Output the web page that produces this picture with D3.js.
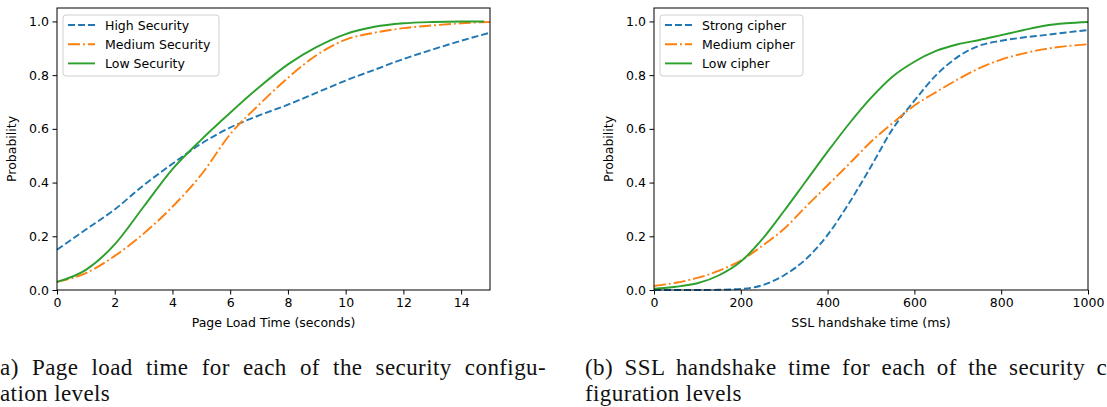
<!DOCTYPE html>
<html>
<head>
<meta charset="utf-8">
<script src="https://cdn.jsdelivr.net/npm/d3@7"></script>
<style>
body { margin: 0; background: #fff; }
text { font-family: "DejaVu Sans", sans-serif; }
.caption { font-family: "Liberation Serif", serif; font-size: 23px; fill: #111; letter-spacing: 0.4px; }
</style>
</head>
<body>
<svg id="canvas"></svg>
<script>
// (a) page load time, seconds
const loadTime = [0, 1, 2, 3, 4, 5, 6, 7, 8, 9, 10, 11, 12, 13, 14, 15]
const highSecurity = [0.15, 0.225, 0.30, 0.39, 0.47, 0.545, 0.605, 0.65, 0.69, 0.735, 0.78, 0.82, 0.86, 0.895, 0.928, 0.958]
const mediumSecurity = [0.03, 0.063, 0.127, 0.21, 0.31, 0.43, 0.58, 0.69, 0.79, 0.875, 0.932, 0.958, 0.975, 0.985, 0.993, 0.998]
const lowTime = [0, 1, 2, 3, 4, 5, 6, 7, 8, 9, 10, 11, 12, 13, 14, 14.8]
const lowSecurity = [0.03, 0.075, 0.17, 0.31, 0.45, 0.56, 0.66, 0.755, 0.84, 0.905, 0.953, 0.98, 0.993, 0.998, 1.0, 1.0]

// (b) SSL handshake time, ms
const handshakeTime = [0, 50, 100, 150, 200, 250, 300, 350, 400, 450, 500, 550, 600, 650, 700, 750, 800, 850, 900, 950, 1000]
const strongCipher = [0, 0, 0, 0.001, 0.004, 0.018, 0.055, 0.115, 0.205, 0.325, 0.46, 0.60, 0.705, 0.80, 0.868, 0.91, 0.928, 0.94, 0.949, 0.959, 0.968]
const mediumCipher = [0.015, 0.027, 0.045, 0.072, 0.11, 0.165, 0.228, 0.31, 0.39, 0.47, 0.552, 0.622, 0.687, 0.737, 0.784, 0.826, 0.858, 0.88, 0.897, 0.908, 0.915]
const lowCipher = [0.005, 0.012, 0.025, 0.055, 0.106, 0.19, 0.295, 0.405, 0.515, 0.62, 0.715, 0.795, 0.85, 0.89, 0.915, 0.931, 0.949, 0.967, 0.984, 0.993, 0.998]

const loadTicks = [0, 2, 4, 6, 8, 10, 12, 14]
const handshakeTicks = [0, 200, 400, 600, 800, 1000]
const probTicks = [0, 0.2, 0.4, 0.6, 0.8, 1.0]

const blue = '#1f77b4'
const orange = '#ff7f0e'
const green = '#2ca02c'
const dashed = '7,3'
const dashDot = '12,3,1.9,3'

const width = 1107
const height = 407
const plotTop = 8
const plotBottom = 290

let canvas = d3.select('#canvas')
canvas.attr('width', width).attr('height', height)

const panels = [
    {
        left: 57, right: 490, domain: [0, 15], ticks: loadTicks,
        xLabel: 'Page Load Time (seconds)', legendW: 156,
        series: [
            { name: 'High Security', x: loadTime, y: highSecurity, color: blue, dash: dashed },
            { name: 'Medium Security', x: loadTime, y: mediumSecurity, color: orange, dash: dashDot },
            { name: 'Low Security', x: lowTime, y: lowSecurity, color: green, dash: null }
        ]
    },
    {
        left: 654, right: 1088, domain: [0, 1000], ticks: handshakeTicks,
        xLabel: 'SSL handshake time (ms)', legendW: 143,
        series: [
            { name: 'Strong cipher', x: handshakeTime, y: strongCipher, color: blue, dash: dashed },
            { name: 'Medium cipher', x: handshakeTime, y: mediumCipher, color: orange, dash: dashDot },
            { name: 'Low cipher', x: handshakeTime, y: lowCipher, color: green, dash: null }
        ]
    }
]

let drawPanel = (p) => {
    let xScale = d3.scaleLinear().domain(p.domain).range([p.left, p.right])
    let yScale = d3.scaleLinear().domain([0, 1.05]).range([plotBottom, plotTop])
    let g = canvas.append('g')

    let xAxis = d3.axisBottom(xScale).tickValues(p.ticks).tickFormat(d3.format('d'))
        .tickSize(4.5).tickPadding(4)
    let yAxis = d3.axisLeft(yScale).tickValues(probTicks).tickFormat(d3.format('.1f'))
        .tickSize(4.5).tickPadding(3.5)

    g.append('g')
        .attr('transform', `translate(0, ${plotBottom})`)
        .call(xAxis)
    g.append('g')
        .attr('transform', `translate(${p.left}, 0)`)
        .call(yAxis)
    g.selectAll('.domain').remove()
    g.selectAll('.tick line').attr('stroke', '#000').attr('stroke-width', 1)
    g.selectAll('.tick text').attr('font-size', 12.5).attr('fill', '#000')
        .attr('font-family', '"DejaVu Sans", sans-serif')

    let line = d3.line()
        .x(d => xScale(d[0]))
        .y(d => yScale(d[1]))
        .curve(d3.curveMonotoneX)

    p.series.forEach(s => {
        g.append('path')
            .datum(s.x.map((v, i) => [v, s.y[i]]))
            .attr('d', line)
            .attr('fill', 'none')
            .attr('stroke', s.color)
            .attr('stroke-width', 1.9)
            .attr('stroke-dasharray', s.dash)
    })

    // spines
    g.append('rect')
        .attr('x', p.left).attr('y', plotTop)
        .attr('width', p.right - p.left).attr('height', plotBottom - plotTop)
        .attr('fill', 'none').attr('stroke', '#000').attr('stroke-width', 1)

    g.append('text')
        .attr('x', (p.left + p.right) / 2).attr('y', 327)
        .attr('text-anchor', 'middle').attr('font-size', 12.5)
        .text(p.xLabel)
    g.append('text')
        .attr('transform', `translate(${p.left - 41}, ${(plotTop + plotBottom) / 2}) rotate(-90)`)
        .attr('text-anchor', 'middle').attr('font-size', 12.5)
        .text('Probability')

    // legend
    let lx = p.left + 6
    let ly = 15
    g.append('rect')
        .attr('x', lx).attr('y', ly).attr('width', p.legendW).attr('height', 61)
        .attr('rx', 3)
        .attr('fill', 'rgba(255,255,255,0.8)').attr('stroke', '#d0d0d0').attr('stroke-width', 1)
    p.series.forEach((s, i) => {
        let cy = ly + 10 + i * 19.2
        g.append('line')
            .attr('x1', lx + 5).attr('x2', lx + 32)
            .attr('y1', cy).attr('y2', cy)
            .attr('stroke', s.color).attr('stroke-width', 1.9)
            .attr('stroke-dasharray', s.dash)
        g.append('text')
            .attr('x', lx + 42).attr('y', cy + 4.5)
            .attr('font-size', 12.5)
            .text(s.name)
    })
}

panels.forEach(drawPanel)

// sub-figure captions, cut at the page edges like the original
const captionA = ['(a) Page load time for each of the security configu-', 'ation levels']
const captionB = ['(b) SSL handshake time for each of the security con-', 'figuration levels']

let drawCaption = (lines, x1, x2) => {
    let first = canvas.append('text').attr('class', 'caption')
        .attr('x', x1).attr('y', 375)
        .text(lines[0])
    // justify the first line by widening the word gaps, like LaTeX does
    let natural = first.node().getComputedTextLength()
    let gaps = lines[0].split(' ').length - 1
    first.style('word-spacing', `${Math.max(0, (554 - natural) / gaps)}px`)
    canvas.append('text').attr('class', 'caption')
        .attr('x', x2).attr('y', 401)
        .text(lines[1])
}
drawCaption(captionA, -8, 0)
drawCaption(captionB, 585, 585)
</script>
</body>
</html>
